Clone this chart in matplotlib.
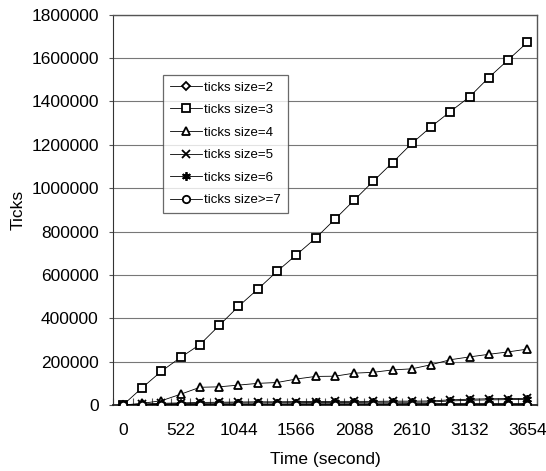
import numpy as np
import matplotlib
matplotlib.use("Agg")
import matplotlib.pyplot as plt

plt.rcParams['font.family'] = ['Liberation Sans', 'DejaVu Sans']

# sampling times (s), one point every 174 s
time_s = [0, 174, 348, 522, 696, 870, 1044, 1218, 1392, 1566, 1740,
          1914, 2088, 2262, 2436, 2610, 2784, 2958, 3132, 3306, 3480, 3654]
tick_labels = ["0", "522", "1044", "1566", "2088", "2610", "3132", "3654"]

size2 = [0, 2000, 3000, 4000, 4000, 5000, 5000, 5000, 5000, 6000, 6000,
         6000, 6000, 6000, 6000, 7000, 7000, 7000, 7000, 7000, 7000, 7000]
size3 = [0, 80000, 156000, 220000, 279000, 367000, 455000, 534000, 616000,
         692000, 769000, 856000, 944000, 1032000, 1118000, 1206000, 1283000,
         1353000, 1421000, 1510000, 1591000, 1672000]
size4 = [0, 8000, 20000, 50000, 82000, 84000, 92000, 100000, 104000, 120000,
         132000, 133000, 147000, 151000, 162000, 167000, 186000, 209000,
         222000, 234000, 245000, 258000]
size5 = [0, 5000, 8000, 10000, 12000, 13000, 14000, 15000, 15000, 16000,
         16000, 17000, 17000, 17000, 18000, 18000, 19000, 24000, 27000,
         29000, 30000, 31000]
size6 = [0, 3000, 5000, 7000, 8000, 9000, 10000, 10000, 11000, 11000, 12000,
         12000, 12000, 13000, 13000, 13000, 14000, 19000, 22000, 24000,
         25000, 26000]
size7 = [0, 500, 1000, 1000, 1000, 1500, 1500, 1500, 1500, 2000, 2000,
         2000, 2000, 2000, 2000, 2000, 2000, 2500, 2500, 2500, 2500, 2500]

series = [
    (size2, 'D', 'ticks size=2', 4.4),
    (size3, 's', 'ticks size=3', 5.3),
    (size4, '^', 'ticks size=4', 5.8),
    (size5, 'x', 'ticks size=5', 5.8),
    (size6, (6, 2, 0), 'ticks size=6', 6.3),
    (size7, 'o', 'ticks size>=7', 5.3),
]

fig = plt.figure(figsize=(5.46, 4.71), dpi=100)
ax = fig.add_axes([0.2075, 0.140, 0.776, 0.829])

# category-style x axis: one slot per sample
idx = np.arange(len(time_s))
for vals, mk, lab, ms in series:
    ax.plot(idx, vals, color='black', lw=0.6, marker=mk, markersize=ms,
            markerfacecolor='white', markeredgecolor='black',
            markeredgewidth=1.3, label=lab, zorder=3)

ax.set_xlim(-0.5, len(time_s) - 0.5)
ax.set_ylim(0, 1800000)
ax.set_yticks(np.arange(0, 1800001, 200000))
ax.set_yticklabels([str(v) for v in range(0, 1800001, 200000)])
ax.set_xticks(idx[::3])
ax.set_xticklabels(tick_labels)
ax.set_xticks(np.arange(-0.5, len(time_s), 1.0), minor=True)
ax.tick_params(axis='x', which='major', length=0, pad=13, labelsize=12.5)
ax.tick_params(axis='x', which='minor', direction='in', length=5, width=0.8,
               color='#555555')
ax.tick_params(axis='y', direction='out', length=3, width=0.8, pad=7.5,
               labelsize=12.5, color='#555555')

ax.yaxis.grid(True, color='#777777', lw=0.8)
ax.set_axisbelow(True)
for side in ['top', 'right']:
    ax.spines[side].set_color('#555555')
    ax.spines[side].set_linewidth(1.0)
ax.spines['left'].set_color('#333333')
ax.spines['bottom'].set_color('#222222')
ax.spines['bottom'].set_linewidth(1.3)

ax.set_xlabel('Time (second)', fontsize=12.5)
ax.xaxis.set_label_coords(0.5, -0.119)
ax.set_ylabel('Ticks', fontsize=12.5)
ax.yaxis.set_label_coords(-0.206, 0.5)

leg = ax.legend(loc='upper left', bbox_to_anchor=(0.118, 0.846),
                borderaxespad=0, fancybox=False, frameon=True, fontsize=9.5,
                handlelength=2.4, handletextpad=0.2, labelspacing=0.78,
                borderpad=0.5)
leg.get_frame().set_edgecolor('#444444')
leg.get_frame().set_linewidth(0.9)

fig.savefig('out.png', dpi=100)
